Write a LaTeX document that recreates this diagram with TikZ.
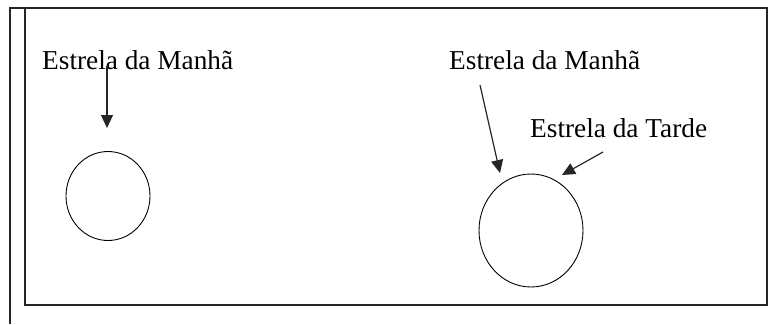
\documentclass[tikz,border=0pt]{standalone}
\usepackage{fontspec}
\setmainfont{Liberation Serif}
\usepackage{tikz}
\usetikzlibrary{positioning,arrows.meta,shapes.geometric}

\tikzset{
  starlabel/.style={anchor=base west, inner sep=0pt, font=\fontsize{27.3}{30}\selectfont},
  starshape/.style={draw, ellipse, inner sep=0pt, line width=0.9pt},
  pointer/.style={-{Triangle[length=13pt,width=12pt]}, line width=1.2pt, black!85},
  frame/.style={line width=1.3pt, black!85}
}

\begin{document}
\begin{tikzpicture}[x=1pt, y=-1pt]
\useasboundingbox (0,0) rectangle (776,324);

% table frame
\draw[frame] (10,324) -- (10,8) -- (767,8) -- (767,305) -- (25,305) -- (25,8);

% left: one star
\node[starlabel] (manha_0) at (42,69) {Estrela da Manhã};
\node[starshape, minimum width=84pt, minimum height=89pt] (star_0) at (108,196) {};
\coordinate (from_0) at (107,66);
\coordinate (tip_0) at (107,128);
\draw[pointer] (from_0) -- (tip_0);

% right: same star, two names
\node[starlabel] (manha_1) at (449,69) {Estrela da Manhã};
\node[starlabel] (tarde_1) at (530,137) {Estrela da Tarde};
\node[starshape, minimum width=104pt, minimum height=113pt] (star_1) at (531,230.5) {};
\coordinate (from_1) at (480,85);
\coordinate (tip_1) at (500,173);
\draw[pointer] (from_1) -- (tip_1);
\coordinate (from_2) at (603,152);
\coordinate (tip_2) at (562,175);
\draw[pointer] (from_2) -- (tip_2);

\end{tikzpicture}
\end{document}
